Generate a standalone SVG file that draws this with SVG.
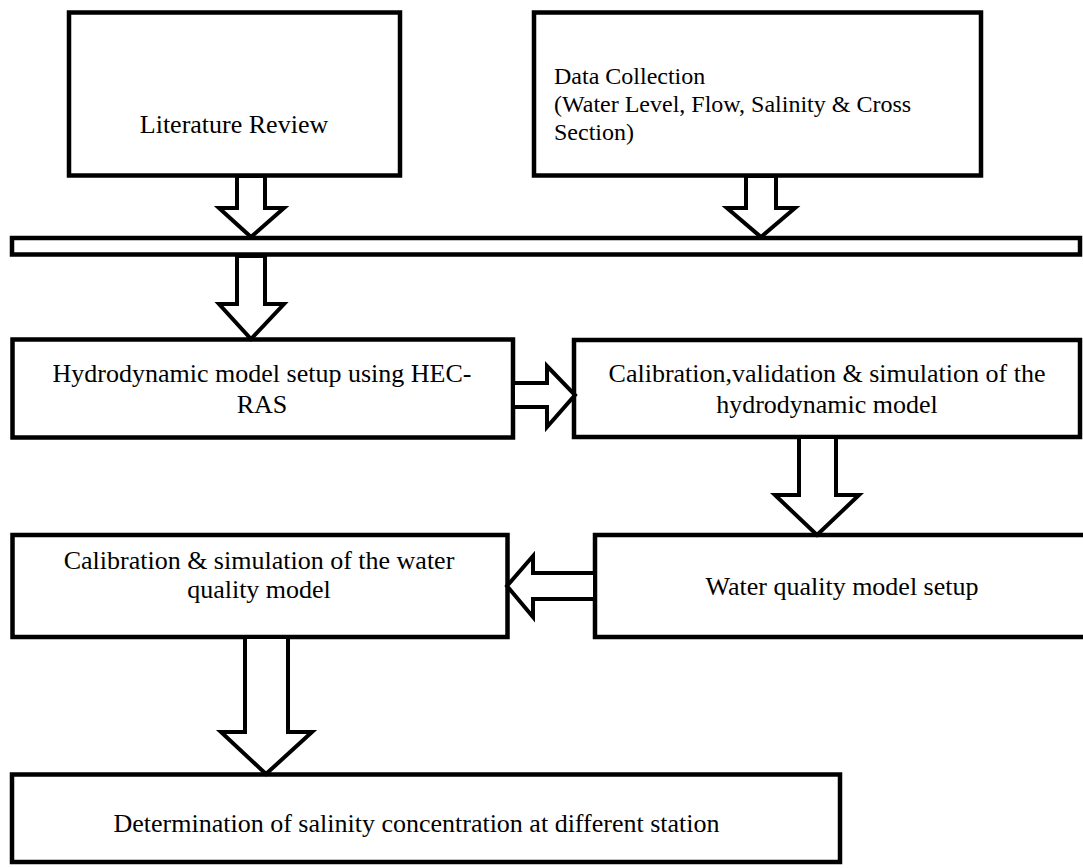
<svg xmlns="http://www.w3.org/2000/svg" width="1083" height="868" viewBox="0 0 1083 868">
<style>
.box{fill:#fff;stroke:#000;stroke-width:4.5}
.arr{fill:#fff;stroke:#000;stroke-width:4;stroke-linejoin:miter}
.t{font-family:"Liberation Serif","Times New Roman",serif;font-size:26px;fill:#000}
.c{text-anchor:middle}
</style>
<rect width="1083" height="868" fill="#fff"/>
<g id="literature-review">
<rect class="box" x="69" y="12.5" width="331" height="163"/>
<text class="t c" x="234" y="133">Literature Review</text>
</g>
<g id="data-collection">
<rect class="box" x="534" y="12.5" width="447" height="163"/>
<text class="t" style="font-size:24px" x="554" y="84">Data Collection</text>
<text class="t" style="font-size:24px" x="554" y="112">(Water Level, Flow, Salinity &amp; Cross</text>
<text class="t" style="font-size:24px" x="554" y="140">Section)</text>
</g>
<g id="merge-bar">
<rect class="box" x="12" y="238" width="1068" height="16.5"/>
</g>
<g id="hydro-setup">
<rect class="box" x="12.5" y="339.5" width="500.5" height="98"/>
<text class="t c" x="262" y="382">Hydrodynamic model setup using HEC-</text>
<text class="t c" x="262" y="413">RAS</text>
</g>
<g id="hydro-calibration">
<rect class="box" x="574" y="340" width="506" height="97"/>
<text class="t c" x="827" y="381.5">Calibration,validation &amp; simulation of the</text>
<text class="t c" x="827" y="412.5">hydrodynamic model</text>
</g>
<g id="wq-setup">
<rect class="box" x="595" y="535" width="500" height="102"/>
<text class="t c" x="842" y="595">Water quality model setup</text>
</g>
<g id="wq-calibration">
<rect class="box" x="12.5" y="535" width="495" height="102"/>
<text class="t c" x="259" y="569">Calibration &amp; simulation of the water</text>
<text class="t c" x="259" y="598">quality model</text>
</g>
<g id="salinity">
<rect class="box" x="12" y="774.5" width="828" height="87.5"/>
<text class="t c" x="416.5" y="831.5">Determination of salinity concentration at different station</text>
</g>
<g id="connectors">
<polygon class="arr" points="237,176 265,176 265,208 284,208 251,237 219,208 237,208"/>
<polygon class="arr" points="746,176 776,176 776,208 795,208 761,237 727,208 746,208"/>
<polygon class="arr" points="237,256 265,256 265,304 284,304 251,339 219,304 237,304"/>
<polygon class="arr" points="513,383 547,383 547,366 575,395 547,427 547,407 513,407"/>
<polygon class="arr" points="799,437 836,437 836,495 859,495 817,535 775,495 799,495"/>
<polygon class="arr" points="595,573 533,573 533,556 507,586 533,617 533,599 595,599"/>
<polygon class="arr" points="245,637 288,637 288,732 312,732 266,774 221,732 245,732"/>
</g>
</svg>
